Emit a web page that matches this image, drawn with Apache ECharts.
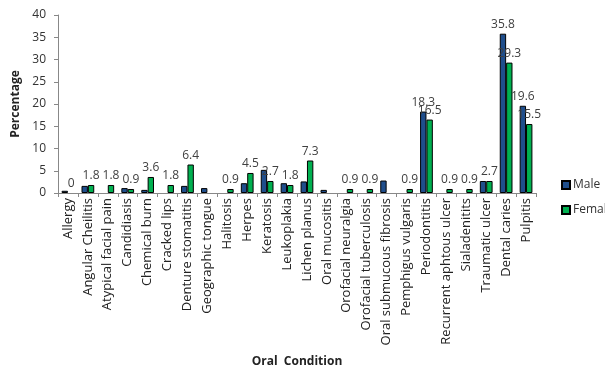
<!DOCTYPE html>
<html lang="en">
<head>
  <meta charset="UTF-8">
  <title>Oral Condition</title>
  <script src="https://cdn.jsdelivr.net/npm/echarts@6/dist/echarts.min.js"></script>
  <style>html,body{margin:0;padding:0;background:#fff;}</style>
</head>
<body>
  <div id="main" style="width:605px;height:368px;"></div>

  <script type="text/javascript">
    const categories = ['Allergy', 'Angular Cheilitis', 'Atypical facial pain', 'Candidiasis', 'Chemical burn',
      'Cracked lips', 'Denture stomatitis', 'Geographic tongue', 'Halitosis', 'Herpes', 'Keratosis',
      'Leukoplakia', 'Lichen planus', 'Oral mucositis', 'Orofacial neuralgia', 'Orofacial tuberculosis',
      'Oral submucous fibrosis', 'Pemphigus vulgaris', 'Periodontitis', 'Recurrent aphtous ulcer',
      'Sialadenitits', 'Traumatic ulcer', 'Dental caries', 'Pulpitis'];
    const male = [0.5, 1.6, 0, 1.1, 0.7, 0, 1.6, 1.1, 0, 2.2, 5.2, 2.2, 2.6, 0.7, 0, 0, 2.8, 0, 18.3, 0, 0, 2.7, 35.8, 19.6];
    const female = [0, 1.8, 1.8, 0.9, 3.6, 1.8, 6.4, 0, 0.9, 4.5, 2.7, 1.8, 7.3, 0, 0.9, 0.9, 0, 0.9, 16.5, 0.9, 0.9, 2.7, 29.3, 15.5];
    // which bars carry a value label
    const maleLabels = [0, 0, 0, 0, 0, 0, 0, 0, 0, 0, 0, 0, 0, 0, 0, 0, 0, 0, 1, 0, 0, 0, 1, 1];
    const femaleLabels = [1, 1, 1, 1, 1, 1, 1, 0, 1, 1, 1, 1, 1, 0, 1, 1, 0, 1, 1, 1, 1, 1, 1, 1];
    const yTicks = { min: 0, max: 40, interval: 5 };

    const font = 'Open Sans';
    const myChart = echarts.init(document.getElementById('main'));

    // zero bars get no outline so they don't show as a line on the axis
    function toData(vals, flags) {
      return vals.map((v, i) => ({
        value: v,
        label: { show: flags[i] === 1 },
        itemStyle: v === 0 ? { borderWidth: 0, color: 'rgba(0,0,0,0)' } : undefined
      }));
    }

    const labelStyle = {
      position: 'top', distance: 3, color: '#404040', fontSize: 12, fontFamily: font
    };

    const options = {
      animation: false,
      textStyle: { fontFamily: font },
      grid: { left: 58, right: 69, top: 15, bottom: 175, outerBoundsMode: 'none' },
      legend: {
        orient: 'vertical', left: 556, top: 174, itemGap: 13,
        itemWidth: 8, itemHeight: 8, icon: 'rect',
        textStyle: { color: '#333', fontSize: 12, fontFamily: font, padding: [0, 0, 0, -2] },
        data: ['Male', 'Female']
      },
      xAxis: {
        type: 'category', data: categories,
        name: 'Oral  Condition', nameLocation: 'middle', nameGap: 163,
        nameTextStyle: { fontWeight: 'bold', fontSize: 12, color: '#222', fontFamily: font },
        axisLine: { lineStyle: { color: '#888' } },
        axisTick: { show: true, length: 4, lineStyle: { color: '#888' } },
        axisLabel: { interval: 0, rotate: 90, fontSize: 13, color: '#222', fontFamily: font, margin: 5 }
      },
      yAxis: {
        type: 'value', min: yTicks.min, max: yTicks.max, interval: yTicks.interval,
        name: 'Percentage', nameLocation: 'middle', nameGap: 35, nameRotate: 90,
        nameTextStyle: { fontWeight: 'bold', fontSize: 12, color: '#222', fontFamily: font },
        splitLine: { show: false },
        axisLine: { show: true, lineStyle: { color: '#888' } },
        axisTick: { show: true, length: 4, lineStyle: { color: '#888' } },
        axisLabel: { fontSize: 12, color: '#333', fontFamily: font, margin: 12 }
      },
      series: [
        {
          name: 'Male', type: 'bar', data: toData(male, maleLabels),
          barGap: '0%', barCategoryGap: '36%',
          itemStyle: { color: '#1f4e8c', borderColor: '#000', borderWidth: 1 },
          label: labelStyle
        },
        {
          name: 'Female', type: 'bar', data: toData(female, femaleLabels),
          itemStyle: { color: '#00b050', borderColor: '#000', borderWidth: 1 },
          label: labelStyle
        }
      ]
    };

    myChart.setOption(options);
  </script>
</body>
</html>
